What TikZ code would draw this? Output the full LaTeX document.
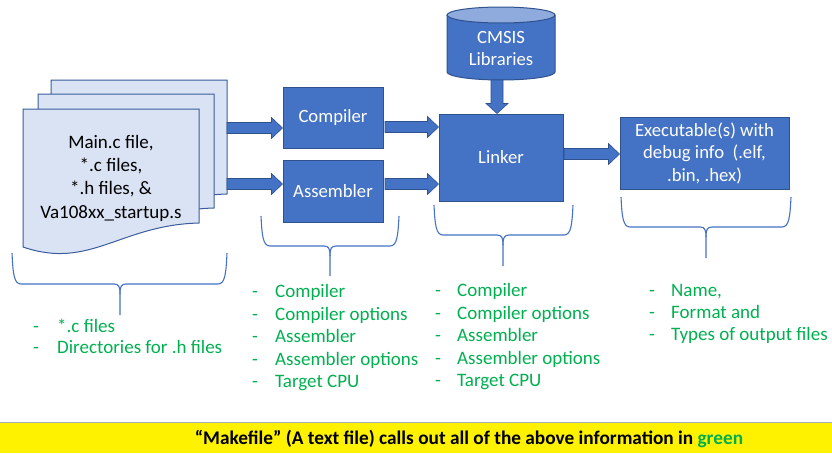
\documentclass[tikz,border=0pt]{standalone}
\usepackage{fontspec}
\setmainfont{Carlito}
\usetikzlibrary{calc}
\definecolor{boxblue}{HTML}{4472C4}
\definecolor{boxline}{HTML}{2F528F}
\definecolor{docfill}{HTML}{DAE3F3}
\definecolor{docline}{HTML}{3A5C9C}
\definecolor{listgreen}{HTML}{00B050}
\definecolor{cyltop}{HTML}{8FAADC}
\definecolor{barline}{HTML}{A9A9BE}
\newcommand\harrow[2]{%
  \path[barrow] let \p1=(#1), \p2=(#2) in
    (\x1,\y1+5.5pt) -- (\x2-11pt,\y1+5.5pt) -- (\x2-11pt,\y1+10.5pt) -- (\x2,\y1)
    -- (\x2-11pt,\y1-10.5pt) -- (\x2-11pt,\y1-5.5pt) -- (\x1,\y1-5.5pt) -- cycle;}
\newcommand\varrow[2]{%
  \path[barrow] let \p1=(#1), \p2=(#2) in
    (\x1-6pt,\y1) -- (\x1-6pt,\y2+10pt) -- (\x1-11pt,\y2+10pt) -- (\x1,\y2)
    -- (\x1+11pt,\y2+10pt) -- (\x1+6pt,\y2+10pt) -- (\x1+6pt,\y1) -- cycle;}
\newcommand\ubrace[6]{%
  \draw[brace] (#1,#3) .. controls (#1+1,#4-10) and (#1+2,#4) .. (#1+9,#4) -- (#5-6,#4)
    .. controls (#5-1,#4) and (#5,#4+3) .. (#5,#4+10) -- (#5,#6);
  \draw[brace] (#2,#3) .. controls (#2-1,#4-10) and (#2-2,#4) .. (#2-9,#4) -- (#5+6,#4)
    .. controls (#5+1,#4) and (#5,#4+3) .. (#5,#4+10);}
\begin{document}
\begin{tikzpicture}[x=1pt,y=-1pt,
  box/.style={fill=boxblue, draw=boxline, line width=1pt, text=white,
    font=\fontsize{18.7}{22.5}\selectfont, align=center, inner sep=0pt},
  doc/.style={fill=docfill, draw=docline, line width=1pt},
  barrow/.style={fill=boxblue, draw=boxline, line width=0.6pt},
  brace/.style={draw=boxblue, line width=1.1pt},
  item/.style={text=listgreen, font=\fontsize{19}{22.5}\selectfont, inner sep=0pt, anchor=base west}]
\useasboundingbox (0,0) rectangle (832,453);

% document stack
\foreach \dx/\dy in {28/-29, 15/-15, 0/0}
  \path[doc, shift={(\dx,\dy)}] (23,109) -- (199,109) -- (199,223)
    .. controls (120,225) and (90,270) .. (23,247) -- cycle;
\node[font=\fontsize{19}{23.3}\selectfont, align=center, inner sep=0pt] (doctext) at (111,178)
  {Main.c file,\\{}*.c files,\\{}*.h files, \&\\Va108xx\_startup.s};
\coordinate (a1) at (227,128);
\coordinate (a2) at (227,184);

% boxes
\node[box, minimum width=100pt, minimum height=61pt] (comp) at (333,117.5) {Compiler};
\node[box, minimum width=100pt, minimum height=62pt] (asm) at (333,191) {Assembler};
\node[box, minimum width=124pt, minimum height=87pt] (link) at (501,157.5) {Linker};
\node[box, minimum width=169pt, minimum height=72pt] (exec) at (704.5,153)
  {Executable(s) with\\debug info~ (.elf,\\.bin, .hex)};

% cylinder
\path[fill=boxblue, draw=boxline, line width=1pt] (447,15) -- (447,72)
  .. controls (447,76.4) and (471.2,80) .. (501,80)
  .. controls (530.8,80) and (555,76.4) .. (555,72) -- (555,15);
\path[fill=cyltop, draw=boxline, line width=1pt] (501,15) ellipse [x radius=54, y radius=8];
\node[box, fill=none, draw=none] (cmsis) at (501,48.5) {CMSIS\\Libraries};
\coordinate (cylbot) at (497,80);

% arrows
\harrow{a1}{comp.west |- a1}
\harrow{a2}{asm.west |- a2}
\coordinate (a3) at (385,127);
\coordinate (a4) at (385,184);
\harrow{a3}{link.west |- a3}
\harrow{a4}{link.west |- a4}
\coordinate (a5) at (564,154);
\harrow{a5}{exec.west |- a5}
\varrow{cylbot}{link.north -| cylbot}

% braces
\ubrace{12}{227}{253}{284}{120}{315}
\ubrace{261}{399}{216}{246}{330}{276}
\ubrace{434}{573}{205}{235}{503}{266}
\ubrace{621}{791}{197}{227}{706}{258}

% lists
\foreach \t [count=\i] in {{*.c files},{Directories for .h files}} {
  \node[item] (dd\i) at (33,{332+21*(\i-1)}) {-};
  \node[item] (dt\i) at (57,{332+21*(\i-1)}) {\t};
}
\foreach \t [count=\i] in {Compiler,Compiler options,Assembler,Assembler options,Target CPU} {
  \node[item] (cd\i) at (252,{297.5+22.5*(\i-1)}) {-};
  \node[item] (ct\i) at (275,{297.5+22.5*(\i-1)}) {\t};
  \node[item] (ld\i) at (435,{296.5+22.6*(\i-1)}) {-};
  \node[item] (lt\i) at (457,{296.5+22.6*(\i-1)}) {\t};
}
\node[item] (ed1) at (649,296.7) {-};
\node[item] (et1) at (671,296.7) {Name,};
\node[item] (ed2) at (649,318.5) {-};
\node[item] (et2) at (671,318.5) {Format and};
\node[item] (ed3) at (649,340.7) {-};
\node[item] (et3) at (671,340.7) {Types of output files};

% bottom bar
\fill[yellow] (0,423) rectangle (832,453);
\draw[barline, line width=1.5pt] (0,422.5) -- (832,422.5);
\node[font=\bfseries\fontsize{19.3}{22}\selectfont, inner sep=0pt] (mk) at (469,438.5)
  {“Makefile” (A text file) calls out all of the above information in \textcolor{listgreen}{green}};
\end{tikzpicture}
\end{document}
